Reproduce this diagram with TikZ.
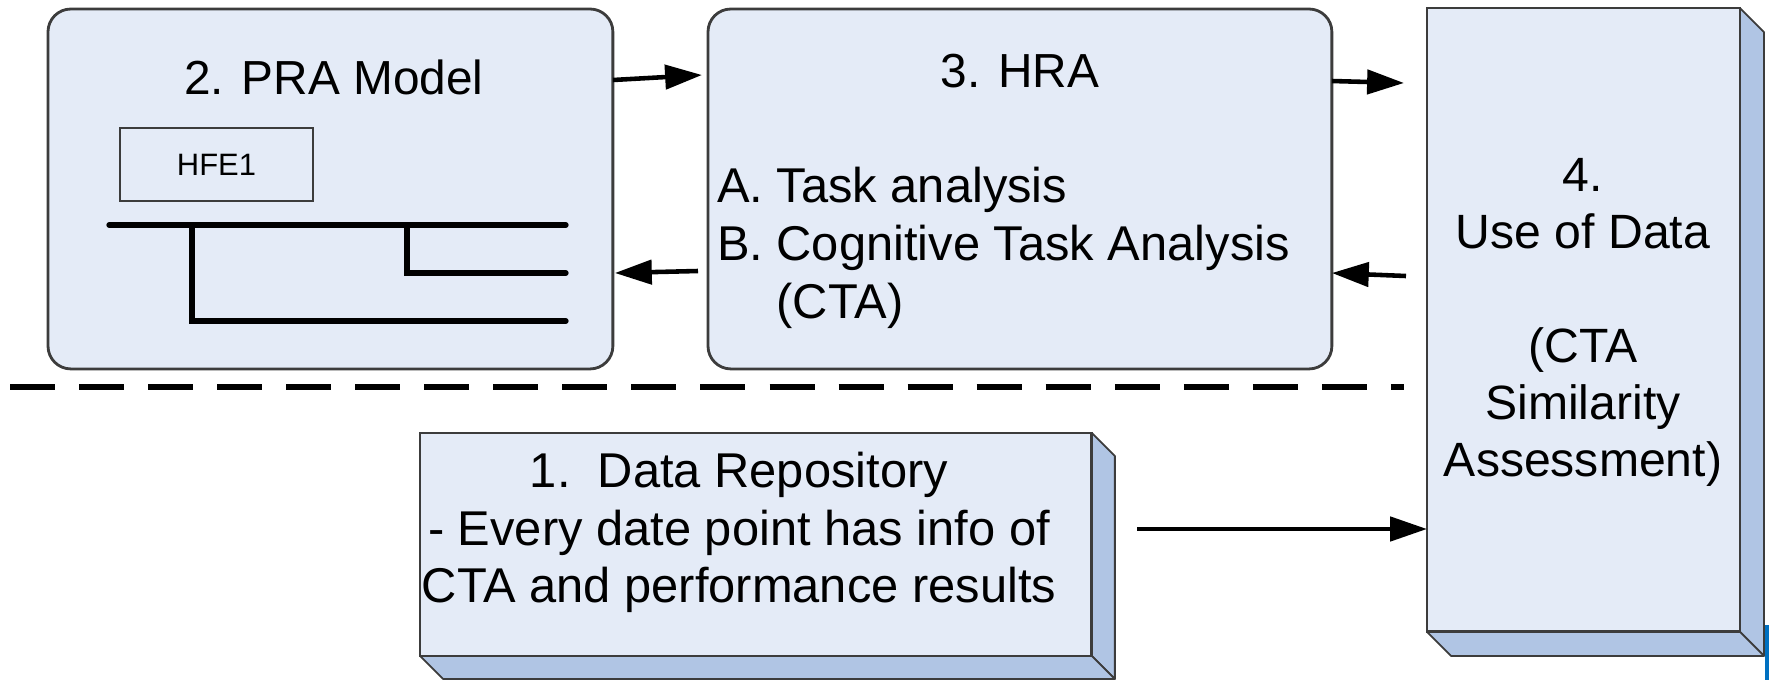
\documentclass[tikz,border=0pt]{standalone}
\usepackage{fontspec}
\setmainfont{Liberation Sans}
\usetikzlibrary{arrows.meta}

\definecolor{boxfill}{RGB}{228,235,247}
\definecolor{boxside}{RGB}{176,197,228}
\definecolor{boxline}{RGB}{60,60,60}
\definecolor{slideblue}{RGB}{0,112,192}

\begin{document}
\begin{tikzpicture}[x=0.02cm,y=-0.02cm]
		\tikzstyle{every node}+=[inner sep=0pt, outer sep=0pt]
		\tikzstyle{roundbox}=[draw=boxline, line width=1.6pt, fill=boxfill, rounded corners=13pt, anchor=north west]
		\tikzstyle{flatbox}=[draw=boxline, line width=1.6pt, fill=boxfill, anchor=north west]
		\tikzstyle{sideface}=[draw=boxline, line width=1pt, fill=boxside, line join=round]
		\tikzstyle{bigtext}=[font=\fontsize{27.2}{32}\selectfont, anchor=base]
		\tikzstyle{listtext}=[font=\fontsize{27.8}{32}\selectfont, anchor=base]
		\tikzstyle{flow}=[line width=2.6pt, -{Triangle[length=21pt,width=13.7pt]}]
		\tikzstyle{branch}=[line width=3pt, line cap=round]
		\tikzstyle{divider}=[line width=3.4pt, dash pattern=on 25.6pt off 13.7pt]
		\useasboundingbox (0,0) rectangle (1769,680);
		% boxes
		\node [roundbox, minimum width=11.3cm, minimum height=7.2cm] (pra) at (48,9) {};
		\node [roundbox, minimum width=12.48cm, minimum height=7.2cm] (hra) at (708,9) {};
		\node [flatbox, minimum width=6.26cm, minimum height=12.48cm] (use) at (1427,8) {};
		\node [flatbox, minimum width=13.44cm, minimum height=4.46cm] (repo) at (420,433) {};
		% 3d faces
		\draw [sideface] (use.north east) -- ([shift={(24,24)}]use.north east) -- ([shift={(24,24)}]use.south east) -- (use.south east) -- cycle;
		\draw [sideface] (use.south west) -- ([shift={(24,24)}]use.south west) -- ([shift={(24,24)}]use.south east) -- (use.south east) -- cycle;
		\draw [sideface] (repo.north east) -- ([shift={(23,23)}]repo.north east) -- ([shift={(23,23)}]repo.south east) -- (repo.south east) -- cycle;
		\draw [sideface] (repo.south west) -- ([shift={(23,23)}]repo.south west) -- ([shift={(23,23)}]repo.south east) -- (repo.south east) -- cycle;
		% PRA model
		\node [bigtext] (pratitle) at (334,94) {2. PRA Model};
		\node [draw=boxline, line width=0.8pt, anchor=north west, minimum width=3.86cm, minimum height=1.46cm, font=\fontsize{17.6}{20}\selectfont] (hfe) at (120,128) {HFE1};
		\draw [branch] (109,225) -- (566,225);
		\draw [branch] (192,225) |- (566,321);
		\draw [branch] (407,225) |- (566,273);
		% HRA
		\node [bigtext] (hratitle) at (1020,87) {3. HRA};
		\node [listtext, anchor=base west] (taska) at (717,202) {A. Task analysis};
		\node [listtext, anchor=base west] (taskb) at (717,260) {B. Cognitive Task Analysis};
		\node [listtext, anchor=base west] (taskc) at (717,318) {\hphantom{B.\ }(CTA)};
		% use of data
		\node [bigtext, font=\fontsize{27.4}{32}\selectfont] (usea) at (1583,191) {4.};
		\node [bigtext, font=\fontsize{27.4}{32}\selectfont] (useb) at (1583,248) {Use of Data};
		\node [bigtext, font=\fontsize{27.4}{32}\selectfont] (usec) at (1583,362) {(CTA};
		\node [bigtext, font=\fontsize{27.4}{32}\selectfont] (used) at (1583,419) {Similarity};
		\node [bigtext, font=\fontsize{27.4}{32}\selectfont] (usee) at (1583,476) {Assessment)};
		% repository
		\node [listtext] (repoa) at (739,487) {1.\ \ Data Repository};
		\node [listtext] (repob) at (739,545) {- Every date point has info of};
		\node [listtext] (repoc) at (739,602) {CTA and performance results};
		% arrows
		\coordinate (hraout) at (1404,83);
		\coordinate (usein) at (1406,276);
		\coordinate (repoout) at (1137,529);
		\draw [flow] ([shift={(0,71)}]pra.north east) -- ([shift={(-6,66)}]hra.north west);
		\draw [flow] ([shift={(-10,262)}]hra.north west) -- ([shift={(2,264)}]pra.north east);
		\draw [flow] ([shift={(0,72)}]hra.north east) -- (hraout);
		\draw [flow] (usein) -- ([shift={(0,264)}]hra.north east);
		\draw [flow] (repoout) -- (use.west |- repoout);
		% dashed divider
		\draw [divider] (10,387) -- (1404,387);
		\fill [slideblue] (1765,625) rectangle (1769,680);
\end{tikzpicture}
\end{document}
